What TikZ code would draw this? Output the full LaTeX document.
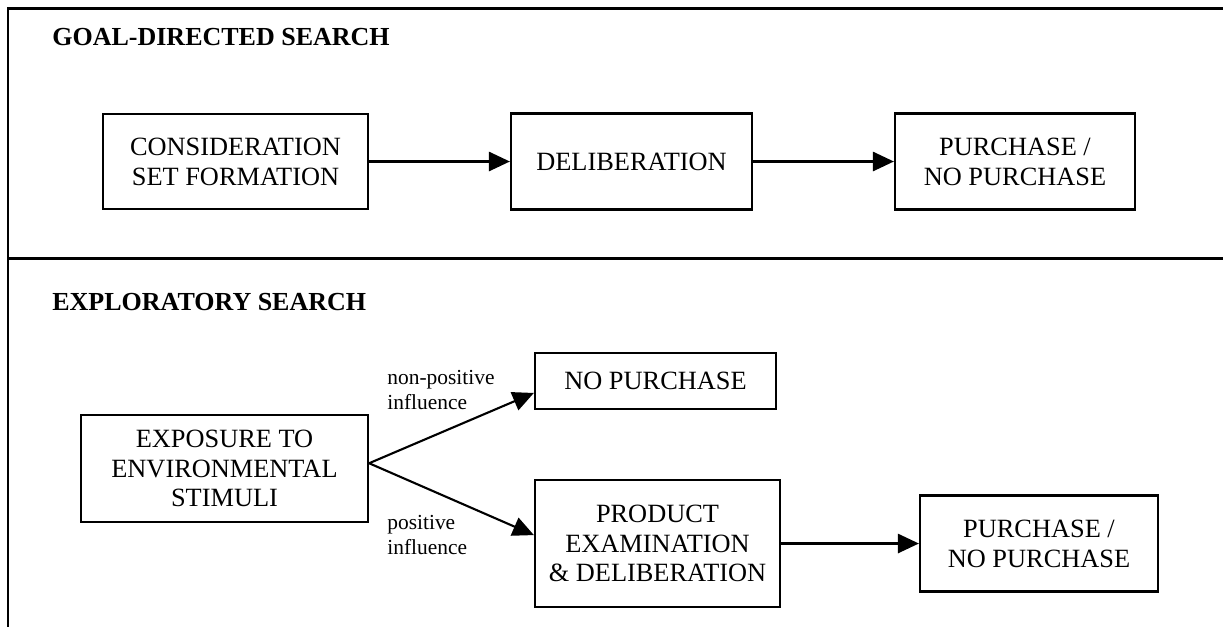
\documentclass[tikz,border=0pt]{standalone}
\usepackage{fontspec}
\setmainfont{Liberation Serif}
\usepackage{tikz}
\usetikzlibrary{arrows.meta,positioning,calc}

\begin{document}
\begin{tikzpicture}[x=0.02cm, y=-0.02cm]
  % Define styles
  \tikzstyle{stage} = [rectangle, draw, line width=1.3pt, align=center, inner sep=2pt, font=\fontsize{15}{17}\selectfont]
  \tikzstyle{arrow} = [line width=1.2pt, -{Triangle[length=12pt, width=11pt]}]
  \tikzstyle{title} = [font=\bfseries\fontsize{14.8}{17}\selectfont, anchor=base west, inner sep=0pt]
  \tikzstyle{label} = [font=\fontsize{12.2}{14.2}\selectfont, align=left, anchor=west, inner sep=0pt]

  \useasboundingbox (0,0) rectangle (1223,627);

  % Frame of the two panels
  \draw [line width=1.7pt] (1223,8) -- (8,8) -- (8,627);
  \draw [line width=1.7pt] (8,258) -- (1223,258);

  % Goal-directed search
  \node [title] (goaltitle) at (52,45) {GOAL-DIRECTED SEARCH};

  \node [stage, minimum width=5.30cm, minimum height=1.90cm] (consider) at (235.5,161.5) {
    CONSIDERATION\\
    SET FORMATION
  };
  \node [stage, minimum width=4.82cm, minimum height=1.92cm] (deliberate) at (631.5,161.5) {DELIBERATION};
  \node [stage, minimum width=4.80cm, minimum height=1.92cm] (buygoal) at (1015,161.5) {
    PURCHASE /\\
    NO PURCHASE
  };

  \draw [arrow] (consider.east) -- (deliberate.west);
  \draw [arrow] (deliberate.east) -- (buygoal.west);

  % Exploratory search
  \node [title] (exploretitle) at (52,310) {EXPLORATORY SEARCH};

  \node [stage, minimum width=5.74cm, minimum height=2.14cm] (exposure) at (224.5,468.5) {
    EXPOSURE TO\\
    ENVIRONMENTAL\\
    STIMULI
  };
  \node [stage, minimum width=4.82cm, minimum height=1.12cm] (nopurchase) at (655.5,381) {NO PURCHASE};
  \node [stage, minimum width=4.90cm, minimum height=2.54cm] (examine) at (657.5,543.5) {
    PRODUCT\\
    EXAMINATION\\
    \& DELIBERATION
  };
  \node [stage, minimum width=4.76cm, minimum height=1.92cm] (buyexplore) at (1039,543.5) {
    PURCHASE /\\
    NO PURCHASE
  };

  \draw [arrow] ([yshift=3pt]exposure.east) -- ([yshift=-6.8pt]nopurchase.west);
  \draw [arrow] ([yshift=3pt]exposure.east) -- ([yshift=4.8pt]examine.west);
  \draw [arrow] (examine.east) -- (buyexplore.west);

  % Influence labels
  \node [label] (negative) at (387,390) {non-positive\\influence};
  \node [label] (positive) at (387,535) {positive\\influence};

\end{tikzpicture}
\end{document}
